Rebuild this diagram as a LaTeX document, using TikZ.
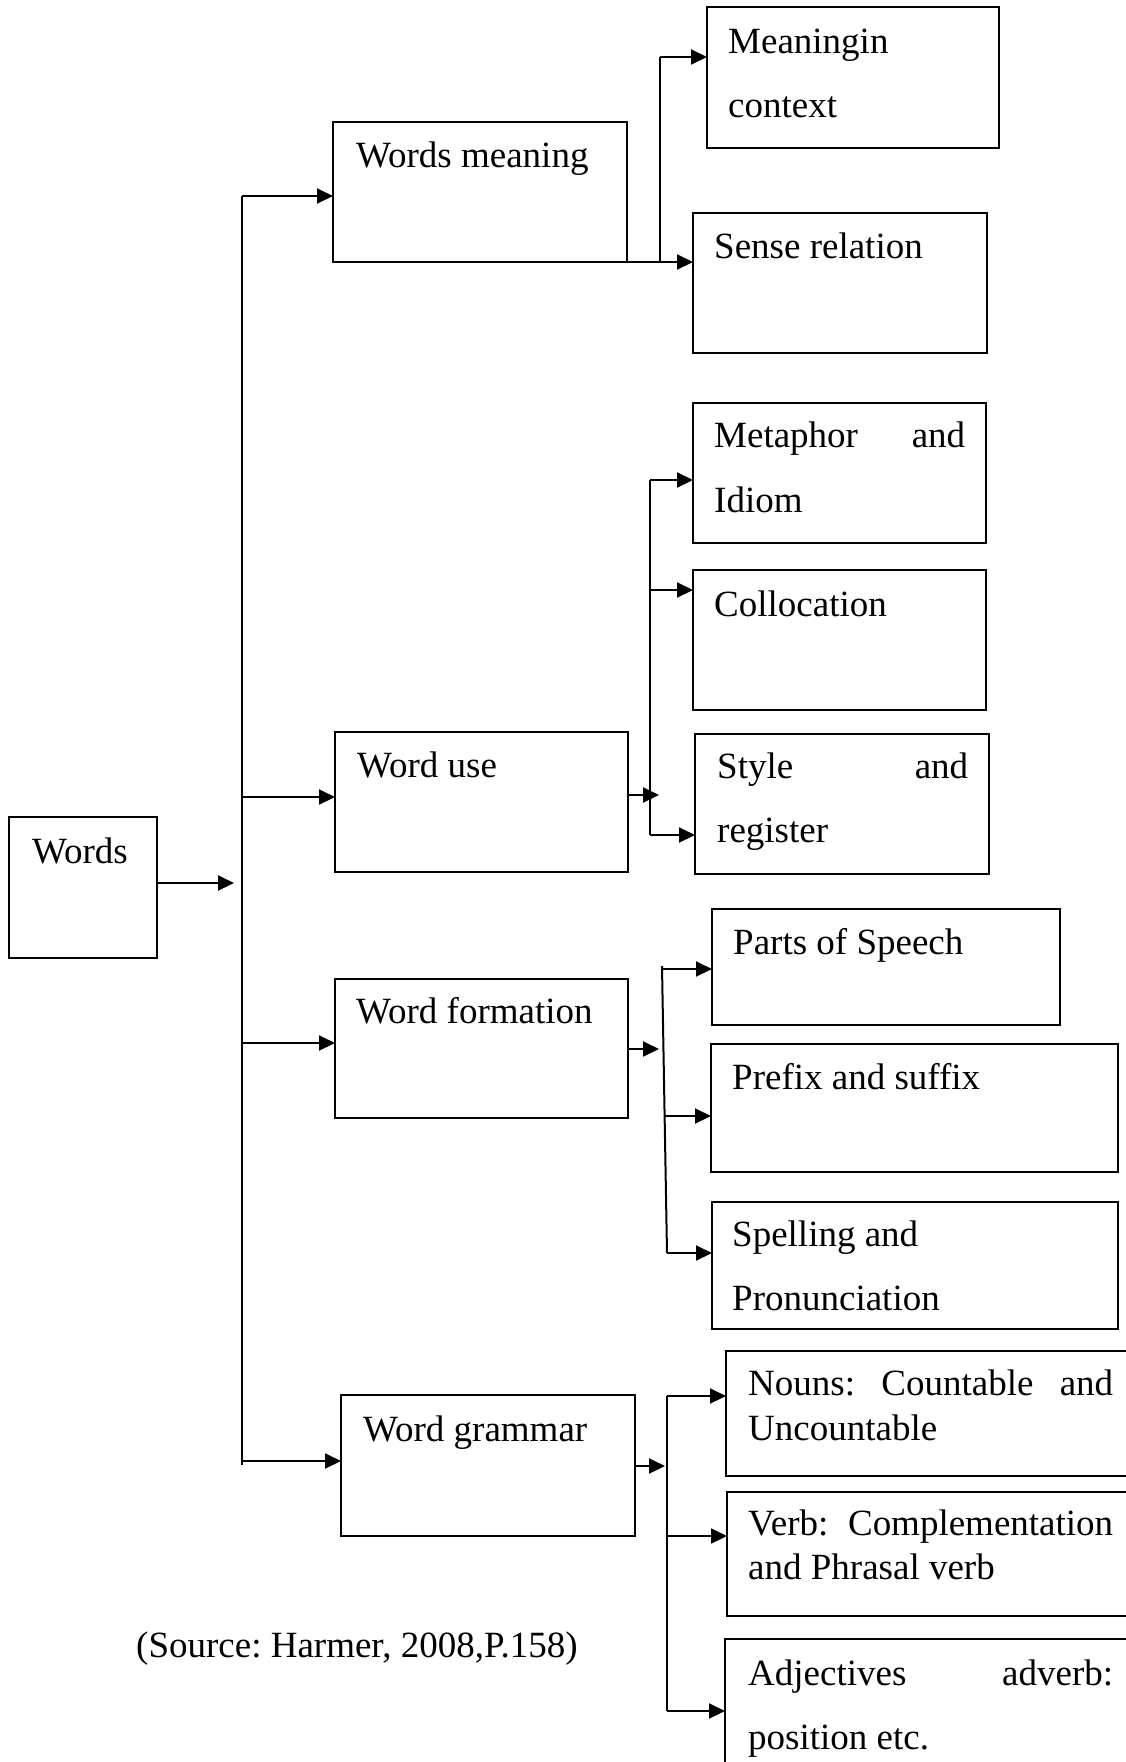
\documentclass[tikz,border=0pt]{standalone}
\usepackage{fontspec}
\setmainfont{Liberation Serif}
\usetikzlibrary{arrows.meta}
\frenchspacing
\begin{document}
\begin{tikzpicture}[x=1pt,y=-1pt,
  box/.style={draw, line width=2pt, inner sep=0pt, outer sep=0pt, anchor=north west},
  txt/.style={anchor=base west, inner sep=0pt, font=\fontsize{37}{44}\selectfont\frenchspacing},
  ln/.style={line width=2pt},
  arr/.style={line width=2pt, -{Triangle[length=16pt,width=15pt]}}]
\useasboundingbox (0,0) rectangle (1125,1762);
\fill[white] (0,0) rectangle (1125,1762);

% boxes
\node[box, minimum width=148pt, minimum height=141pt] (words) at (9,817) {};
\node[box, minimum width=294pt, minimum height=140pt] (wm) at (333,122) {};
\node[box, minimum width=293pt, minimum height=140pt] (wu) at (335,732) {};
\node[box, minimum width=293pt, minimum height=139pt] (wf) at (335,979) {};
\node[box, minimum width=294pt, minimum height=141pt] (wg) at (341,1395) {};
\node[box, minimum width=292pt, minimum height=141pt] (mic) at (707,7) {};
\node[box, minimum width=294pt, minimum height=140pt] (sr) at (693,213) {};
\node[box, minimum width=293pt, minimum height=140pt] (mi) at (693,403) {};
\node[box, minimum width=293pt, minimum height=140pt] (col) at (693,570) {};
\node[box, minimum width=294pt, minimum height=140pt] (sty) at (695,734) {};
\node[box, minimum width=348pt, minimum height=116pt] (pos) at (712,909) {};
\node[box, minimum width=407pt, minimum height=128pt] (pre) at (711,1044) {};
\node[box, minimum width=406pt, minimum height=127pt] (spe) at (712,1202) {};
\node[box, minimum width=404pt, minimum height=125pt] (nou) at (726,1351) {};
\node[box, minimum width=403pt, minimum height=124pt] (verb) at (727,1492) {};
\node[box, minimum width=405pt, minimum height=131pt] (adj) at (725,1639) {};

% texts
\node[txt] (words-t) at (32,863) {Words};
\node[txt] (wm-t) at (356,167) {Words meaning};
\node[txt] (wu-t) at (357,777) {Word use};
\node[txt] (wf-t) at (356,1023) {Word formation};
\node[txt] (wg-t) at (363,1441) {Word grammar};
\node[txt] (mic-t1) at (728,53) {Meaningin};
\node[txt] (mic-t2) at (728,117) {context};
\node[txt] (sr-t) at (714,258) {Sense relation};
\node[txt] (mi-t1) at (714,447) {\makebox[251pt][l]{Metaphor\hfill and}};
\node[txt] (mi-t2) at (714,512) {Idiom};
\node[txt] (col-t) at (714,616) {Collocation};
\node[txt] (sty-t1) at (717,778) {\makebox[251pt][l]{Style\hfill and}};
\node[txt] (sty-t2) at (717,842) {register};
\node[txt] (pos-t) at (733,954) {Parts of Speech};
\node[txt] (pre-t) at (732,1089) {Prefix and suffix};
\node[txt] (spe-t1) at (732,1246) {Spelling and};
\node[txt] (spe-t2) at (732,1310) {Pronunciation};
\node[txt] (nou-t1) at (748,1395) {\makebox[365pt][l]{Nouns:\hfill Countable\hfill and}};
\node[txt] (nou-t2) at (748,1440) {Uncountable};
\node[txt] (verb-t1) at (748,1535) {\makebox[365pt][l]{Verb:\hfill Complementation}};
\node[txt] (verb-t2) at (748,1579) {and Phrasal verb};
\node[txt] (adj-t1) at (748,1685) {\makebox[365pt][l]{Adjectives\hfill adverb:}};
\node[txt] (adj-t2) at (748,1749) {position etc.};
\node[txt] (src) at (136,1657) {(Source: Harmer, 2008,P.158)};

% trunk
\coordinate (tTop) at (242,196);
\coordinate (tBot) at (242,1465);
\coordinate (tIn) at (234,883);
\coordinate (t2) at (242,797);
\coordinate (t3) at (242,1043);
\coordinate (t4) at (242,1461);
\draw[ln] (tTop) -- (tBot);
\draw[arr] (words.east |- tIn) -- (tIn);
\draw[arr] (tTop) -- (tTop -| wm.west);
\draw[arr] (t2) -- (t2 -| wu.west);
\draw[arr] (t3) -- (t3 -| wf.west);
\draw[arr] (t4) -- (t4 -| wg.west);

% words meaning branch
\coordinate (m1) at (660,262);
\coordinate (m2) at (660,57);
\draw[arr] (wm.south east) -- (wm.south east -| sr.west);
\draw[ln] (m1) -- (m2);
\draw[arr] (m2) -- (m2 -| mic.west);

% word use branch
\coordinate (u0) at (659,795);
\coordinate (u1) at (650,480);
\coordinate (u2) at (650,590);
\coordinate (u3) at (650,835);
\draw[arr] (wu.east |- u0) -- (u0);
\draw[ln] (u1) -- (u3);
\draw[arr] (u1) -- (u1 -| mi.west);
\draw[arr] (u2) -- (u2 -| col.west);
\draw[arr] (u3) -- (u3 -| sty.west);

% word formation branch
\coordinate (f0) at (659,1049);
\coordinate (fa) at (662,966);
\coordinate (fb) at (667,1253);
\coordinate (f1) at (662,969);
\coordinate (f2) at (664,1116);
\draw[arr] (wf.east |- f0) -- (f0);
\draw[ln] (fa) -- (fb);
\draw[arr] (f1) -- (f1 -| pos.west);
\draw[arr] (f2) -- (f2 -| pre.west);
\draw[arr] (fb) -- (fb -| spe.west);

% word grammar branch
\coordinate (g0) at (665,1466);
\coordinate (g1) at (667,1396);
\coordinate (g2) at (667,1536);
\coordinate (g3) at (667,1711);
\draw[arr] (wg.east |- g0) -- (g0);
\draw[ln] (g1) -- (g3);
\draw[arr] (g1) -- (g1 -| nou.west);
\draw[arr] (g2) -- (g2 -| verb.west);
\draw[arr] (g3) -- (g3 -| adj.west);
\end{tikzpicture}
\end{document}
